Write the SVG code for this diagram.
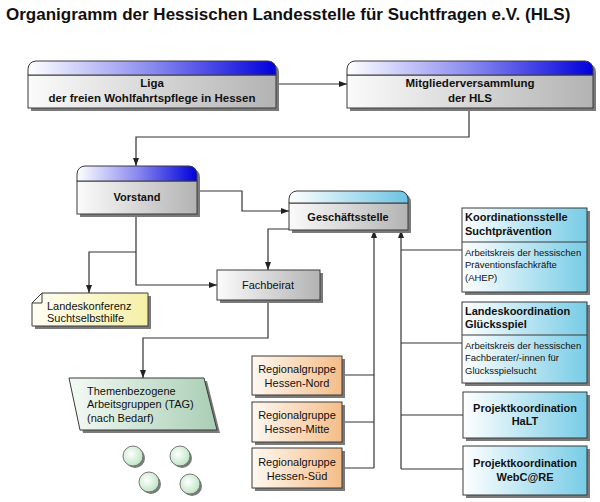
<svg xmlns="http://www.w3.org/2000/svg" width="600" height="502" viewBox="0 0 600 502">
<defs>
<linearGradient id="gHead" x1="0" y1="0" x2="1" y2="0"><stop offset="0" stop-color="#ffffff"/><stop offset="0.5" stop-color="#8a8af0"/><stop offset="1" stop-color="#0000dc"/></linearGradient>
<linearGradient id="gHeadC" x1="0" y1="0" x2="1" y2="0"><stop offset="0" stop-color="#ffffff"/><stop offset="1" stop-color="#6cc3e3"/></linearGradient>
<linearGradient id="gGray" x1="0" y1="0" x2="1" y2="0"><stop offset="0" stop-color="#fbfbfb"/><stop offset="1" stop-color="#b3b3b3"/></linearGradient>
<linearGradient id="gYellow" x1="0" y1="0" x2="1" y2="0"><stop offset="0" stop-color="#fffff4"/><stop offset="1" stop-color="#f5efa6"/></linearGradient>
<linearGradient id="gGreen" x1="0" y1="0" x2="1" y2="0"><stop offset="0" stop-color="#f4faf5"/><stop offset="1" stop-color="#a9ceb4"/></linearGradient>
<linearGradient id="gBlue" x1="0" y1="0" x2="1" y2="0"><stop offset="0" stop-color="#ffffff"/><stop offset="1" stop-color="#78cce6"/></linearGradient>
<linearGradient id="gOrange" x1="0" y1="0" x2="1" y2="0"><stop offset="0" stop-color="#fff8f1"/><stop offset="1" stop-color="#f4bd88"/></linearGradient>
<radialGradient id="gDot" cx="0.4" cy="0.4" r="0.6"><stop offset="0" stop-color="#ffffff"/><stop offset="1" stop-color="#bfe6c6"/></radialGradient>
<marker id="arr" viewBox="0 0 8 6" refX="8" refY="3" markerWidth="8" markerHeight="6" markerUnits="userSpaceOnUse" orient="auto"><path d="M0,0 L8,3 L0,6 Z" fill="#222"/></marker>
</defs>
<style>
text{font-family:"Liberation Sans",Arial,sans-serif;fill:#111}
.title{font-size:17px;font-weight:bold}
.b11{font-size:11px;font-weight:bold}
.b115{font-size:11.5px;font-weight:bold}
.r11{font-size:11px}
.r95{font-size:9.5px}
.c{text-anchor:middle}
.sh{fill:#7a7a7a}
.bx{stroke:#3a3a3a;stroke-width:1}
.ln{fill:none;stroke:#333;stroke-width:1.2}
.ar{marker-end:url(#arr)}
</style>
<rect width="600" height="502" fill="#ffffff"/>
<text class="title" x="6" y="20">Organigramm der Hessischen Landesstelle für Suchtfragen e.V. (HLS)</text>

<g id="connectors">
<path class="ln ar" d="M276,84 H347"/>
<path class="ln ar" d="M469,108 V137 H136 V166"/>
<path class="ln ar" d="M197,191 H242 V211 H289"/>
<path class="ln ar" d="M136,214 V285 H217"/>
<path class="ln ar" d="M136,252 H89 V293"/>
<path class="ln ar" d="M289,229 H268 V270"/>
<path class="ln ar" d="M268,300 V338 H143 V378"/>
<path class="ln ar" d="M374,468 V230"/>
<path class="ln" d="M342,375 H374 M342,422 H374 M342,468 H374"/>
<path class="ln ar" d="M401,469 V230"/>
<path class="ln" d="M401,250 H462 M401,343 H462 M401,415 H463 M401,469 H463"/>
</g>

<g id="liga">
<path class="sh" d="M31,72 V72 A8 8 0 0 1 39,64 H271 A8 8 0 0 1 279,72 V111 H31 Z"/>
<rect class="bx" x="28" y="75" width="248" height="33" fill="url(#gGray)"/>
<path class="bx" d="M28,75 V69 A8 8 0 0 1 36,61 H268 A8 8 0 0 1 276,69 V75 Z" fill="url(#gHead)"/>
<text class="b115 c" x="152" y="87">Liga</text>
<text class="b115 c" x="152" y="102">der freien Wohlfahrtspflege in Hessen</text>
</g>

<g id="mitglieder">
<path class="sh" d="M350,72 A8 8 0 0 1 358,64 H588 A8 8 0 0 1 596,72 V111 H350 Z"/>
<rect class="bx" x="347" y="75" width="246" height="33" fill="url(#gGray)"/>
<path class="bx" d="M347,75 V69 A8 8 0 0 1 355,61 H585 A8 8 0 0 1 593,69 V75 Z" fill="url(#gHead)"/>
<text class="b115 c" x="470" y="87">Mitgliederversammlung</text>
<text class="b115 c" x="470" y="102">der HLS</text>
</g>

<g id="vorstand">
<path class="sh" d="M80,177 A8 8 0 0 1 88,169 H192 A8 8 0 0 1 200,177 V217 H80 Z"/>
<rect class="bx" x="77" y="181" width="120" height="33" fill="url(#gGray)"/>
<path class="bx" d="M77,181 V174 A8 8 0 0 1 85,166 H189 A8 8 0 0 1 197,174 V181 Z" fill="url(#gHead)"/>
<text class="b11 c" x="137" y="201">Vorstand</text>
</g>

<g id="geschaeftsstelle">
<path class="sh" d="M292,202 A8 8 0 0 1 300,194 H403 A8 8 0 0 1 411,202 V233 H292 Z"/>
<rect class="bx" x="289" y="203" width="119" height="27" fill="url(#gGray)"/>
<path class="bx" d="M289,203 V199 A8 8 0 0 1 297,191 H400 A8 8 0 0 1 408,199 V203 Z" fill="url(#gHeadC)"/>
<text class="b11 c" x="348" y="221">Geschäftsstelle</text>
</g>

<g id="fachbeirat">
<rect class="sh" x="220" y="273" width="103" height="30"/>
<rect class="bx" x="217" y="270" width="103" height="30" fill="url(#gGray)"/>
<text class="r11 c" x="268" y="289">Fachbeirat</text>
</g>

<g id="landeskonferenz">
<path class="sh" d="M35,306 L45,296 H151 V329 H35 Z"/>
<path class="bx" d="M32,303 L42,293 H148 V326 H32 Z" fill="url(#gYellow)"/>
<path class="bx" d="M32,303 H42 V293" fill="none"/>
<text class="r11" x="47" y="310">Landeskonferenz</text>
<text class="r11" x="47" y="322">Suchtselbsthilfe</text>
</g>

<g id="themen">
<path class="sh" d="M72,381 H207 L220,433 H83 Z"/>
<path class="bx" d="M69,378 H204 L217,430 H80 Z" fill="url(#gGreen)"/>
<text class="r11" x="87" y="395">Themenbezogene</text>
<text class="r11" x="87" y="408">Arbeitsgruppen (TAG)</text>
<text class="r11" x="87" y="422">(nach Bedarf)</text>
</g>

<g id="kreise">
<circle class="sh" cx="135" cy="458" r="10"/>
<circle cx="133" cy="456" r="10" fill="url(#gDot)" stroke="#777" stroke-width="1"/>
<circle class="sh" cx="182" cy="458" r="10"/>
<circle cx="180" cy="456" r="10" fill="url(#gDot)" stroke="#777" stroke-width="1"/>
<circle class="sh" cx="151" cy="484" r="10"/>
<circle cx="149" cy="482" r="10" fill="url(#gDot)" stroke="#777" stroke-width="1"/>
<circle class="sh" cx="192" cy="486" r="10"/>
<circle cx="190" cy="484" r="10" fill="url(#gDot)" stroke="#777" stroke-width="1"/>
</g>

<g id="rg-nord">
<rect class="sh" x="255" y="359" width="90" height="39"/>
<rect class="bx" x="252" y="356" width="90" height="39" fill="url(#gOrange)"/>
<text class="r11 c" x="297" y="373">Regionalgruppe</text>
<text class="r11 c" x="297" y="387">Hessen-Nord</text>
</g>
<g id="rg-mitte">
<rect class="sh" x="255" y="405" width="90" height="40"/>
<rect class="bx" x="252" y="402" width="90" height="40" fill="url(#gOrange)"/>
<text class="r11 c" x="297" y="419">Regionalgruppe</text>
<text class="r11 c" x="297" y="433">Hessen-Mitte</text>
</g>
<g id="rg-sued">
<rect class="sh" x="255" y="451" width="90" height="40"/>
<rect class="bx" x="252" y="448" width="90" height="40" fill="url(#gOrange)"/>
<text class="r11 c" x="297" y="466">Regionalgruppe</text>
<text class="r11 c" x="297" y="480">Hessen-Süd</text>
</g>

<g id="koordination">
<rect class="sh" x="465" y="211" width="125" height="84"/>
<rect class="bx" x="462" y="208" width="125" height="84" fill="url(#gBlue)"/>
<path class="bx" d="M462,242 H587"/>
<text class="b11" x="465" y="221">Koordinationsstelle</text>
<text class="b11" x="465" y="235">Suchtprävention</text>
<text class="r95" x="465" y="256">Arbeitskreis der hessischen</text>
<text class="r95" x="465" y="268">Präventionsfachkräfte</text>
<text class="r95" x="465" y="281">(AHEP)</text>
</g>

<g id="gluecksspiel">
<rect class="sh" x="465" y="305" width="125" height="81"/>
<rect class="bx" x="462" y="302" width="125" height="81" fill="url(#gBlue)"/>
<path class="bx" d="M462,335 H587"/>
<text class="b11" x="465" y="315">Landeskoordination</text>
<text class="b11" x="465" y="328">Glücksspiel</text>
<text class="r95" x="465" y="349">Arbeitskreis der hessischen</text>
<text class="r95" x="465" y="361">Fachberater/-innen für</text>
<text class="r95" x="465" y="374">Glücksspielsucht</text>
</g>

<g id="halt">
<rect class="sh" x="466" y="395" width="124" height="46"/>
<rect class="bx" x="463" y="392" width="124" height="46" fill="url(#gBlue)"/>
<text class="b11 c" x="525" y="412">Projektkoordination</text>
<text class="b11 c" x="525" y="425">HaLT</text>
</g>

<g id="webcare">
<rect class="sh" x="466" y="449" width="124" height="49"/>
<rect class="bx" x="463" y="446" width="124" height="49" fill="url(#gBlue)"/>
<text class="b11 c" x="525" y="467">Projektkoordination</text>
<text class="b11 c" x="525" y="481">WebC@RE</text>
</g>
</svg>
